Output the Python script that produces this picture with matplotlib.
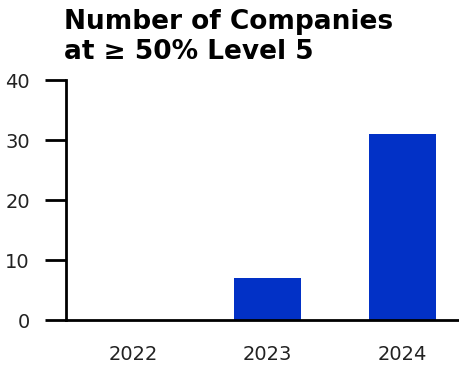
import matplotlib.pyplot as plt

# data
years = ["2022", "2023", "2024"]
companies = [0, 7, 31]
y_ticks = [0, 10, 20, 30, 40]

plt.rcParams["font.family"] = ["DejaVu Sans"]

fig = plt.figure(figsize=(4.6, 3.66), dpi=100)
ax = fig.add_axes([66 / 460, 46 / 366, 1 - 66 / 460, 240 / 366])

x = list(range(len(years)))
ax.bar(x, companies, width=0.5, color="#0231c6")

ax.set_xlim(-0.5, 2.43)
ax.set_ylim(0, 40)
ax.set_xticks(x)
ax.set_xticklabels(years)
ax.set_yticks(y_ticks)

for side in ["top", "right"]:
    ax.spines[side].set_visible(False)
ax.spines["left"].set_linewidth(2)
ax.spines["bottom"].set_linewidth(2)

ax.tick_params(axis="y", length=15, width=2, pad=11, labelsize=14, labelcolor="#222222")
ax.tick_params(axis="x", length=0, pad=18, labelsize=14, labelcolor="#222222")

fig.text(64 / 460, 1 - 9 / 366, "Number of Companies\nat \u2265 50% Level 5",
         ha="left", va="top", fontsize=19, fontweight="bold", linespacing=1.18)

fig.savefig("out.png", dpi=100)
